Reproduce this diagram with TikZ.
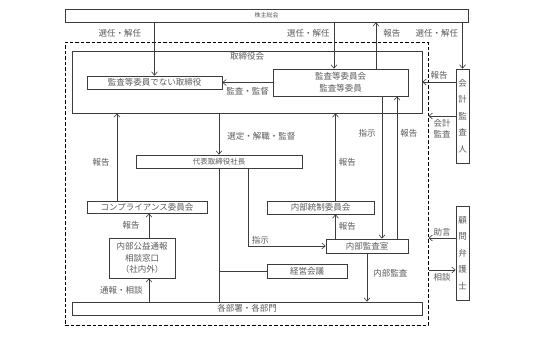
\documentclass[tikz,border=0pt]{standalone}
\usepackage{fontspec}
\setmainfont{Noto Sans CJK JP}
\usepackage{tikz}
\usetikzlibrary{positioning,arrows.meta}
\definecolor{linegray}{HTML}{3C3C3C}
\definecolor{textgray}{HTML}{5A5A5A}
\newcommand{\jpfont}{\fontsize{8.5}{11.5}\selectfont}
\tikzset{
    box/.style 2 args={draw=linegray,line width=0.6pt,inner sep=0pt,minimum width=#1,minimum height=#2,font=\jpfont,text=textgray,align=center},
    tate/.style={font=\fontsize{8.5}{16.5}\selectfont},
    lbl/.style={font=\jpfont,text=textgray,inner sep=1pt,align=center},
    arr/.style={draw=linegray,line width=0.6pt,->,>={Straight Barb[length=3.5pt,width=6pt]}},
    link/.style={draw=linegray,line width=0.6pt},
    company/.style 2 args={draw=black,line width=1pt,dash pattern=on 3.5pt off 2pt,inner sep=0pt,minimum width=#1,minimum height=#2},
}

\begin{document}
\begin{tikzpicture}[x=1pt,y=-1pt]
    \useasboundingbox (0,0) rectangle (533,338);

    \node[company={363pt}{283pt}] (group) at (246.5,183.5) {};
    \node[box={403pt}{13pt},font=\fontsize{6}{7}\selectfont] (soukai) at (266.5,15.5) {株主総会};
    \node[box={350pt}{62pt},label={[lbl,anchor=north]north:取締役会}] (board) at (247,82) {};
    \node[box={135pt}{13pt}] (director) at (154.5,82.5) {監査等委員でない取締役};
    \node[box={135pt}{27pt}] (auditc) at (340.5,82.5) {監査等委員会\\監査等委員};
    \node[box={166pt}{13pt},font=\fontsize{7.5}{9}\selectfont] (president) at (219,161.5) {代表取締役社長};
    \node[box={120pt}{12pt}] (comp) at (147,207) {コンプライアンス委員会};
    \node[box={66pt}{40pt}] (hotline) at (142,258) {内部公益通報\\相談窓口\\（社内外）};
    \node[box={107pt}{13pt}] (icc) at (320.5,207.5) {内部統制委員会};
    \node[box={82pt}{14pt}] (iad) at (367,246) {内部監査室};
    \node[box={80pt}{14pt}] (mgmt) at (307,271) {経営会議};
    \node[box={350pt}{13pt}] (depts) at (247,308.5) {各部署・各部門};
    \node[box={13pt}{94pt},tate] (accaud) at (462.5,116) {会\\計\\監\\査\\人};
    \node[box={13pt}{94pt},tate] (lawyer) at (462.5,253) {顧\\問\\弁\\護\\士};

    % points on box edges
    \coordinate (selA) at ([xshift=-6.5pt]auditc.north);
    \coordinate (repA) at ([xshift=35.5pt]auditc.north);
    \coordinate (repC) at ([xshift=-30pt]comp.north);
    \coordinate (repHn) at ([xshift=7pt]hotline.north);
    \coordinate (repHs) at ([xshift=7pt]hotline.south);
    \coordinate (instP) at ([xshift=29pt]president.south);
    \coordinate (repI) at ([xshift=-31.5pt]iad.north);
    \coordinate (instA) at ([xshift=41.5pt]auditc.south);
    \coordinate (repB) at ([xshift=30pt]iad.north);
    \coordinate (accR) at ([yshift=34pt]accaud.west);
    \coordinate (lawR) at ([yshift=15pt]lawyer.west);
    \coordinate (lawC) at ([yshift=-17pt]lawyer.west);

    \draw[arr] (soukai.south -| director.north) -- (director.north) node[lbl,pos=0.2,left=12pt] {選任・解任};
    \draw[arr] (selA |- soukai.south) -- (selA) node[lbl,pos=0.23,left=3pt] {選任・解任};
    \draw[arr] (repA) -- (repA |- soukai.south) node[lbl,pos=0.77,right=6pt] {報告};
    \draw[arr] (soukai.south -| accaud.north) -- (accaud.north) node[lbl,pos=0.23,left=3pt] {選任・解任};
    \draw[arr] (auditc.west) -- (director.east) node[lbl,midway,below=4pt] {監査・監督};
    \draw[arr] (board.south -| president.north) -- (president.north) node[lbl,pos=0.55,right=7pt] {選定・解職・監督};
    \draw[arr] (repC) -- (repC |- board.south) node[lbl,pos=0.44,left=6pt] {報告};
    \draw[arr] (repHn) -- (repHn |- comp.south) node[lbl,midway,left=8pt] {報告};
    \draw[arr] (repHs |- depts.north) -- (repHs) node[lbl,midway,left=5pt] {通報・相談};
    \draw[link] (president.south) -- (president.south |- depts.north);
    \draw[link] (mgmt.west) -- (mgmt.west -| president.south);
    \draw[arr] (instP) |- (iad.west) node[lbl,pos=0.58,above=1pt] {指示};
    \draw[arr] (repI) -- (repI |- icc.south) node[lbl,midway,right=2pt] {報告};
    \draw[arr] (repI |- icc.north) -- (repI |- board.south) node[lbl,pos=0.44,right=2pt] {報告};
    \draw[arr] (instA) -- (instA |- iad.north) node[lbl,pos=0.26,left=5pt] {指示};
    \draw[arr] (repB) -- (repB |- auditc.south) node[lbl,pos=0.74,right=2pt] {報告};
    \draw[arr] (iad.south) -- (iad.south |- depts.north) node[lbl,pos=0.41,right=5pt] {内部監査};
    \draw[arr] (accR) -- (accR -| board.east) node[lbl,midway,above=1pt] {報告};
    \draw[arr] (accaud.west) -- (accaud.west -| group.east) node[lbl,midway,below=2pt] {会計\\監査};
    \draw[arr] (lawR) -- (lawR -| group.east) node[lbl,midway,above=1pt] {助言};
    \draw[arr] (lawC -| group.east) -- (lawC) node[lbl,midway,below=2pt] {相談};
\end{tikzpicture}
\end{document}
